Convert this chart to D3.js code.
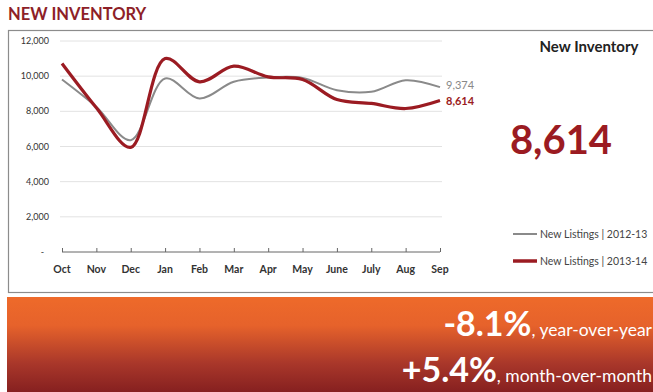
<!DOCTYPE html>
<html>
<head>
<meta charset="utf-8">
<script src="https://cdn.jsdelivr.net/npm/d3@7.9.0/dist/d3.min.js"></script>
<style>
  body { margin: 0; background: #fff; }
  svg { display: block; font-family: Lato, "Open Sans", sans-serif; }
</style>
</head>
<body>
<svg id="chart" width="653" height="392"></svg>
<script>
const months = ["Oct", "Nov", "Dec", "Jan", "Feb", "Mar", "Apr", "May", "June", "July", "Aug", "Sep"];
const listings2012 = [9810, 8250, 6360, 9870, 8730, 9680, 9920, 9900, 9200, 9110, 9770, 9374];
const listings2013 = [10720, 8200, 5950, 11000, 9680, 10570, 9960, 9810, 8670, 8450, 8160, 8614];
const yTicks = [0, 2000, 4000, 6000, 8000, 10000, 12000];
const seriesNames = ["New Listings | 2012-13", "New Listings | 2013-14"];
const yoyChange = "-8.1%";
const momChange = "+5.4%";

const svg = d3.select("#chart");
const darkRed = "#9b1b22";
const gray = "#8a8a8a";
const fmt = d3.format(",");

// gradient for the bottom banner
const defs = svg.append("defs");
const grad = defs.append("linearGradient")
    .attr("id", "banner")
    .attr("x1", 0).attr("y1", 0).attr("x2", 0).attr("y2", 1);
grad.append("stop").attr("offset", "0%").attr("stop-color", "#ee6a2a");
grad.append("stop").attr("offset", "30%").attr("stop-color", "#e6622b");
grad.append("stop").attr("offset", "70%").attr("stop-color", "#a9372a");
grad.append("stop").attr("offset", "100%").attr("stop-color", "#862020");

// title
svg.append("text")
    .attr("x", 8)
    .attr("y", 20)
    .style("font-size", "16.5px")
    .style("font-weight", "bold")
    .style("fill", "#8e1f28")
    .text("NEW INVENTORY");

// panel border
svg.append("rect")
    .attr("x", 8.5)
    .attr("y", 30.5)
    .attr("width", 660)
    .attr("height", 262)
    .attr("fill", "#fff")
    .attr("stroke", "#8c8c8c")
    .attr("stroke-width", 1.2);

const x = d3.scalePoint()
    .domain(months)
    .range([62, 440]);

const y = d3.scaleLinear()
    .domain([0, 12000])
    .range([252, 41]);

// gridlines
svg.append("g")
    .selectAll("line")
    .data(yTicks.filter(d => d > 0))
    .enter()
    .append("line")
    .attr("x1", 60)
    .attr("x2", 442)
    .attr("y1", d => y(d))
    .attr("y2", d => y(d))
    .attr("stroke", "#e2e2e2")
    .attr("stroke-width", 1);

// y labels
svg.append("g")
    .selectAll("text")
    .data(yTicks)
    .enter()
    .append("text")
    .attr("x", d => d === 0 ? 44 : 49)
    .attr("y", d => y(d) + 3)
    .attr("text-anchor", "end")
    .style("font-size", "9px")
    .style("fill", "#333")
    .text(d => d === 0 ? "-" : fmt(d));

// x axis
const xAxis = svg.append("g")
    .attr("transform", "translate(0,252)")
    .call(d3.axisTop(x).tickSize(4).tickFormat(""));
xAxis.select(".domain").attr("stroke", "#666").attr("d", "M62,0H440");
xAxis.selectAll(".tick line").attr("stroke", "#666");

svg.append("g")
    .selectAll("text")
    .data(months)
    .enter()
    .append("text")
    .attr("x", d => x(d))
    .attr("y", 273)
    .attr("text-anchor", "middle")
    .style("font-size", "10.5px")
    .style("font-weight", "bold")
    .style("fill", "#333")
    .text(d => d);

const line = d3.line()
    .x((d, i) => x(months[i]))
    .y(d => y(d))
    .curve(d3.curveCatmullRom.alpha(0.5));

svg.append("path")
    .datum(listings2012)
    .attr("d", line)
    .attr("fill", "none")
    .attr("stroke", gray)
    .attr("stroke-width", 2);

svg.append("path")
    .datum(listings2013)
    .attr("d", line)
    .attr("fill", "none")
    .attr("stroke", darkRed)
    .attr("stroke-width", 3.2);

// end labels
svg.append("text")
    .attr("x", 446)
    .attr("y", y(listings2012[11]) + 2)
    .style("font-size", "11px")
    .style("fill", "#888")
    .text(fmt(listings2012[11]));

svg.append("text")
    .attr("x", 446)
    .attr("y", y(listings2013[11]) + 4)
    .style("font-size", "11px")
    .style("font-weight", "bold")
    .style("fill", darkRed)
    .text(fmt(listings2013[11]));

// right panel
svg.append("text")
    .attr("x", 589)
    .attr("y", 52)
    .attr("text-anchor", "middle")
    .style("font-size", "15px")
    .style("font-weight", "bold")
    .style("fill", "#222")
    .text("New Inventory");

svg.append("text")
    .attr("x", 561)
    .attr("y", 154)
    .attr("text-anchor", "middle")
    .style("font-size", "40px")
    .style("font-weight", "bold")
    .style("fill", darkRed)
    .text(fmt(listings2013[11]));

// legend
const legend = svg.append("g");
seriesNames.forEach((name, i) => {
    const ly = 234 + i * 27;
    legend.append("line")
        .attr("x1", 513).attr("x2", 537)
        .attr("y1", ly).attr("y2", ly)
        .attr("stroke", i === 0 ? gray : darkRed)
        .attr("stroke-width", i === 0 ? 2 : 3.5);
    legend.append("text")
        .attr("x", 540)
        .attr("y", ly + 3.5)
        .style("font-size", "10.5px")
        .style("fill", "#444")
        .text(name);
});

// bottom banner
svg.append("rect")
    .attr("x", 7)
    .attr("y", 297)
    .attr("width", 646)
    .attr("height", 95)
    .attr("fill", "url(#banner)");

const lines = [
    { big: yoyChange, small: ", year-over-year", y: 336 },
    { big: momChange, small: ", month-over-month", y: 382 }
];
lines.forEach(l => {
    const t = svg.append("text")
        .attr("x", 652)
        .attr("y", l.y)
        .attr("text-anchor", "end")
        .style("fill", "#fff");
    t.append("tspan")
        .style("font-size", "34px")
        .style("font-weight", "bold")
        .text(l.big);
    t.append("tspan")
        .style("font-size", "17.5px")
        .text(l.small);
});
</script>
</body>
</html>
